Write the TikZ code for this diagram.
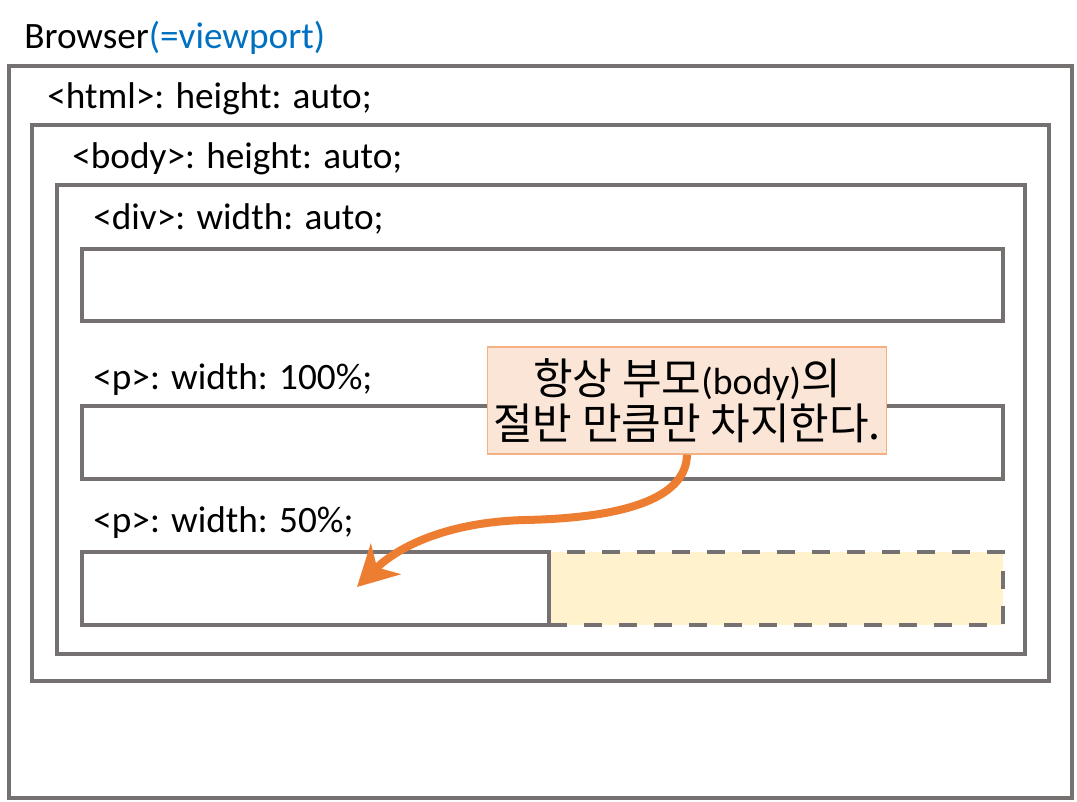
\documentclass[tikz,border=0pt]{standalone}
\usepackage{fontspec}
\setmainfont{Carlito}
\newfontfamily\kr{Noto Sans CJK KR}
\usepackage{tikz}
\usetikzlibrary{arrows.meta}

\definecolor{boxgray}{HTML}{767171}
\definecolor{vpblue}{HTML}{0070C0}
\definecolor{arrorange}{HTML}{ED7D31}
\definecolor{notefill}{HTML}{FBE5D6}
\definecolor{noteline}{HTML}{F4B183}
\definecolor{halffill}{HTML}{FFF2CC}

\begin{document}
\begin{tikzpicture}[x=0.02cm,y=-0.02cm,
    box/.style={draw=boxgray,line width=0.08cm,inner sep=0pt},
    lbl/.style={anchor=base west,inner sep=0pt,font=\fontsize{21.2}{25}\selectfont},
    note/.style={draw=noteline,line width=0.03cm,fill=notefill,align=center,
      font=\fontsize{21.5}{25.5}\selectfont}]
    \useasboundingbox (0,0) rectangle (1077,801);

    % nested boxes
    \node[box,minimum width=21.26cm,minimum height=14.64cm] (browser) at (540.5,432) {};
    \node[box,minimum width=20.34cm,minimum height=11.12cm] (html) at (540.5,403) {};
    \node[box,minimum width=19.36cm,minimum height=9.38cm] (body) at (541,419.5) {};
    \node[box,minimum width=18.42cm,minimum height=1.44cm] (div) at (542.5,285) {};
    \node[box,minimum width=18.42cm,minimum height=1.46cm] (pfull) at (542.5,442.5) {};
    % the other half, dashed
    \node[box,fill=halffill,dash pattern=on 0.36cm off 0.34cm,
      minimum width=9.08cm,minimum height=1.46cm] (phalf) at (776,588.5) {};
    \node[box,minimum width=9.34cm,minimum height=1.46cm] (pleft) at (315.5,588.5) {};

    % labels
    \node[lbl] (browserlbl) at (24,48) {Browser{\color{vpblue}(=viewport)}};
    \node[lbl] (htmllbl) at (47,108) {<html>: height: auto;};
    \node[lbl] (bodylbl) at (72,168) {<body>: height: auto;};
    \node[lbl] (divlbl) at (93,229) {<div>: width: auto;};
    \node[lbl] (pfulllbl) at (93,389) {<p>: width: 100\%;};
    \node[lbl] (phalflbl) at (93,532) {<p>: width: 50\%;};

    % callout
    \node[note,minimum width=7.96cm,minimum height=2.14cm] (note) at (687,400.5)
      {{\kr\fontsize{24.5}{25.5}\selectfont 항상 부모}(body){\kr\fontsize{24.5}{25.5}\selectfont 의}\\
       {\kr\fontsize{24.5}{25.5}\selectfont 절반 만큼만 차지한다.}};
    \coordinate (mid) at (525,520);
    \coordinate (tip) at (357,587);
    \draw[arrorange,line width=0.16cm,-{Stealth[length=0.8cm,width=0.85cm,inset=0.24cm]}]
      (note.south) .. controls (686,500) and (620,518) .. (mid)
      .. controls (450,522) and (400,545) .. (tip);
\end{tikzpicture}
\end{document}
